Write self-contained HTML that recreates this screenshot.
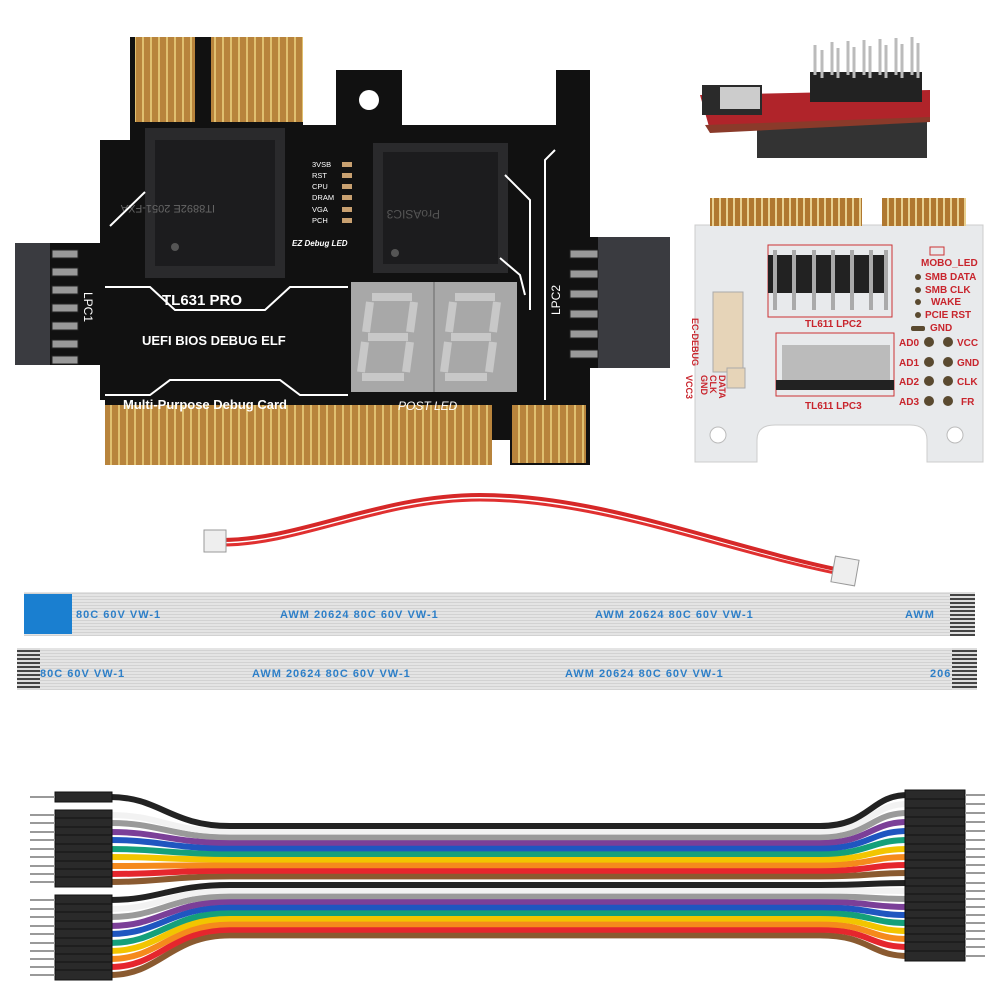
<!DOCTYPE html>
<html><head><meta charset="utf-8"><style>
html,body{margin:0;padding:0;background:#fff;}
svg{display:block}
text{font-family:"Liberation Sans",sans-serif}
</style></head><body>
<svg width="1000" height="1000" viewBox="0 0 1000 1000" xmlns="http://www.w3.org/2000/svg">
<defs>
<pattern id="gold" width="8" height="10" patternUnits="userSpaceOnUse"><rect width="8" height="10" fill="#b8843c"/><rect x="6" width="2" height="10" fill="#e0c070"/></pattern>
<pattern id="gold2" width="7" height="10" patternUnits="userSpaceOnUse"><rect width="7" height="10" fill="#b07830"/><rect x="5" width="2" height="10" fill="#e8d090"/></pattern>
<pattern id="rib" width="10" height="3" patternUnits="userSpaceOnUse"><rect width="10" height="3" fill="#e4e4e4"/><rect y="2" width="10" height="1" fill="#d2d2d2"/></pattern>
<pattern id="stripe" width="3" height="4" patternUnits="userSpaceOnUse"><rect width="3" height="4" fill="#ddd"/><rect y="2" width="3" height="2" fill="#444"/></pattern>
</defs>

<!-- ===== Black PCB card ===== -->
<rect x="15" y="243" width="35" height="122" fill="#3a3b40"/>
<rect x="598" y="237" width="72" height="131" fill="#3a3b40"/>
<path d="M130,37 L303,37 L303,125 L336,125 L336,70 L402,70 L402,125 L556,125 L556,70 L590,70 L590,237 L598,237 L598,368 L590,368 L590,465 L510,465 L510,440 L492,440 L492,465 L105,465 L105,400 L100,400 L100,365 L50,365 L50,243 L100,243 L100,140 L130,140 Z" fill="#111"/>
<rect x="135" y="37" width="60" height="85" fill="url(#gold)"/>
<rect x="211" y="37" width="92" height="85" fill="url(#gold)"/>
<circle cx="369" cy="100" r="10" fill="#fff"/>
<rect x="105" y="405" width="387" height="60" fill="url(#gold)"/>
<rect x="512" y="405" width="74" height="58" fill="url(#gold)"/>
<g fill="#999" stroke="#222">
<rect x="52" y="250" width="26" height="8"/><rect x="52" y="268" width="26" height="8"/><rect x="52" y="286" width="26" height="8"/><rect x="52" y="304" width="26" height="8"/><rect x="52" y="322" width="26" height="8"/><rect x="52" y="340" width="26" height="8"/><rect x="52" y="356" width="26" height="8"/>
<rect x="570" y="250" width="28" height="8"/><rect x="570" y="270" width="28" height="8"/><rect x="570" y="290" width="28" height="8"/><rect x="570" y="310" width="28" height="8"/><rect x="570" y="330" width="28" height="8"/><rect x="570" y="350" width="28" height="8"/>
</g>
<rect x="145" y="128" width="140" height="150" fill="#2a2a2c"/>
<rect x="155" y="140" width="120" height="126" fill="#1c1c1e"/>
<rect x="373" y="143" width="135" height="130" fill="#2a2a2c"/>
<rect x="383" y="152" width="115" height="112" fill="#1c1c1e"/>
<g fill="#555"><circle cx="175" cy="247" r="4"/><circle cx="395" cy="253" r="4"/></g>
<text x="215" y="175" fill="#666" font-size="11" transform="rotate(180 215 190)">IT8892E 2051-FXA</text>
<text x="440" y="220" fill="#555" font-size="12" transform="rotate(180 440 215)">ProASIC3</text>
<g fill="#fff" font-size="7.5">
<text x="312" y="167">3VSB</text><text x="312" y="178">RST</text><text x="312" y="189">CPU</text><text x="312" y="200">DRAM</text><text x="312" y="212">VGA</text><text x="312" y="223">PCH</text>
</g>
<g fill="#c8a070"><rect x="342" y="162" width="10" height="5"/><rect x="342" y="173" width="10" height="5"/><rect x="342" y="184" width="10" height="5"/><rect x="342" y="195" width="10" height="5"/><rect x="342" y="207" width="10" height="5"/><rect x="342" y="218" width="10" height="5"/></g>
<text x="292" y="246" fill="#fff" font-size="8" font-style="italic" font-weight="bold">EZ Debug LED</text>
<rect x="351" y="282" width="166" height="110" fill="#a8a8a8"/>
<line x1="434" y1="282" x2="434" y2="392" stroke="#888" stroke-width="2"/>
<g fill="none" stroke="#c8c8c8" stroke-width="8">
<path d="M372,297 L412,297 M370,302 L366,332 M414,302 L410,332 M368,337 L408,337 M365,342 L361,372 M410,342 L406,372 M362,377 L404,377"/>
<path d="M455,297 L495,297 M453,302 L449,332 M497,302 L493,332 M451,337 L491,337 M448,342 L444,372 M493,342 L489,372 M445,377 L487,377"/>
</g>
<g fill="#fff" font-weight="bold">
<text x="162" y="305" font-size="15">TL631 PRO</text>
<text x="142" y="345" font-size="13">UEFI BIOS DEBUG ELF</text>
<text x="123" y="409" font-size="13">Multi-Purpose Debug Card</text>
<text x="398" y="410" font-size="12" font-style="italic" font-weight="normal">POST LED</text>
<text x="84" y="292" font-size="12" font-weight="normal" transform="rotate(90 84 292)">LPC1</text>
<text x="560" y="315" font-size="12" font-weight="normal" transform="rotate(-90 560 315)">LPC2</text>
</g>
<g fill="none" stroke="#fff" stroke-width="2">
<path d="M105,287 L150,287 L175,310 L265,310 L290,287 L348,287"/>
<path d="M105,395 L150,395 L170,380 L280,380 L300,395 L348,395"/>
<path d="M110,226 L145,192"/>
<path d="M505,175 L530,200 L530,310"/>
<path d="M555,150 L545,160 L545,400"/>
<path d="M500,258 L520,275 L525,295"/>
</g>

<!-- ===== Red adapter ===== -->
<rect x="757" y="118" width="170" height="40" fill="#333"/>
<path d="M700,95 L930,90 L930,120 L710,130 Z" fill="#b0242a"/>
<path d="M705,125 L930,117 L930,122 L710,133 Z" fill="#8a3a2a"/>
<rect x="702" y="85" width="60" height="30" fill="#2a2a2a"/>
<rect x="720" y="87" width="40" height="22" fill="#ccc"/>
<g fill="#222"><rect x="810" y="72" width="112" height="30"/></g>
<g stroke="#bbb" stroke-width="3">
<line x1="815" y1="45" x2="815" y2="75"/><line x1="832" y1="42" x2="832" y2="75"/><line x1="848" y1="41" x2="848" y2="75"/><line x1="864" y1="40" x2="864" y2="75"/><line x1="880" y1="39" x2="880" y2="75"/><line x1="896" y1="38" x2="896" y2="75"/><line x1="912" y1="37" x2="912" y2="75"/>
<line x1="822" y1="50" x2="822" y2="78"/><line x1="838" y1="48" x2="838" y2="78"/><line x1="854" y1="47" x2="854" y2="78"/><line x1="870" y1="46" x2="870" y2="78"/><line x1="886" y1="45" x2="886" y2="78"/><line x1="902" y1="44" x2="902" y2="78"/><line x1="918" y1="43" x2="918" y2="78"/>
</g>

<!-- ===== White card ===== -->
<path d="M695,225 L983,225 L983,462 L927,462 L927,440 Q927,425 910,425 L775,425 Q757,425 757,440 L757,462 L695,462 Z" fill="#e8eaec" stroke="#ccc"/>
<rect x="710" y="198" width="152" height="28" fill="url(#gold2)"/>
<rect x="882" y="198" width="84" height="28" fill="url(#gold2)"/>
<circle cx="718" cy="435" r="8" fill="#fff" stroke="#bbb"/><circle cx="955" cy="435" r="8" fill="#fff" stroke="#bbb"/>
<rect x="768" y="245" width="124" height="72" fill="none" stroke="#c33" stroke-width="1"/>
<g fill="#222"><rect x="768" y="255" width="120" height="38"/></g>
<g stroke="#aaa" stroke-width="4"><line x1="775" y1="250" x2="775" y2="310"/><line x1="794" y1="250" x2="794" y2="310"/><line x1="814" y1="250" x2="814" y2="310"/><line x1="833" y1="250" x2="833" y2="310"/><line x1="852" y1="250" x2="852" y2="310"/><line x1="871" y1="250" x2="871" y2="310"/><line x1="886" y1="250" x2="886" y2="310"/></g>
<rect x="776" y="333" width="118" height="63" fill="none" stroke="#c33"/>
<rect x="782" y="345" width="108" height="35" fill="#bbb"/>
<rect x="776" y="380" width="118" height="10" fill="#222"/>
<rect x="713" y="292" width="30" height="80" fill="#e6d4b8" stroke="#aaa"/>
<rect x="727" y="368" width="18" height="20" fill="#e6d4b8" stroke="#aaa"/>
<g fill="#c8252d" font-weight="bold" font-size="10">
<text x="921" y="266">MOBO_LED</text>
<text x="925" y="280">SMB DATA</text><text x="925" y="293">SMB CLK</text><text x="931" y="305">WAKE</text><text x="925" y="318">PCIE RST</text><text x="930" y="331">GND</text>
<text x="899" y="346">AD0</text><text x="899" y="366">AD1</text><text x="899" y="385">AD2</text><text x="899" y="405">AD3</text>
<text x="957" y="346">VCC</text><text x="957" y="366">GND</text><text x="957" y="385">CLK</text><text x="961" y="405">FR</text>
<text x="805" y="327">TL611 LPC2</text><text x="805" y="409">TL611 LPC3</text>
<text x="692" y="318" font-size="9" transform="rotate(90 692 318)">EC-DEBUG</text>
<text x="701" y="375" font-size="9" transform="rotate(90 701 375)">GND</text>
<text x="710" y="375" font-size="9" transform="rotate(90 710 375)">CLK</text>
<text x="719" y="375" font-size="9" transform="rotate(90 719 375)">DATA</text>
<text x="686" y="375" font-size="9" transform="rotate(90 686 375)">VCC3</text>
</g>
<g fill="#5a4a30"><circle cx="918" cy="277" r="3"/><circle cx="918" cy="290" r="3"/><circle cx="918" cy="302" r="3"/><circle cx="918" cy="315" r="3"/><rect x="911" y="326" width="14" height="5" rx="2"/>
<circle cx="929" cy="342" r="5"/><circle cx="948" cy="342" r="5"/><circle cx="929" cy="362" r="5"/><circle cx="948" cy="362" r="5"/><circle cx="929" cy="381" r="5"/><circle cx="948" cy="381" r="5"/><circle cx="929" cy="401" r="5"/><circle cx="948" cy="401" r="5"/></g>
<rect x="930" y="247" width="14" height="8" fill="none" stroke="#c33"/>

<!-- ===== Red cable ===== -->
<path d="M222,540 C300,540 380,495 480,495 C600,495 720,545 840,570" fill="none" stroke="#d62828" stroke-width="4"/>
<path d="M222,545 C300,545 380,500 480,500 C600,500 720,550 840,574" fill="none" stroke="#e03030" stroke-width="3"/>
<rect x="204" y="530" width="22" height="22" fill="#eee" stroke="#999"/>
<rect x="833" y="558" width="24" height="26" fill="#eee" stroke="#999" transform="rotate(10 845 571)"/>

<!-- ===== Ribbons ===== -->
<rect x="24" y="592" width="951" height="44" fill="url(#rib)"/>
<rect x="24" y="594" width="48" height="40" fill="#1a7fd0"/>
<rect x="950" y="592" width="25" height="44" fill="url(#stripe)"/>
<rect x="17" y="648" width="960" height="42" fill="url(#rib)"/>
<rect x="17" y="648" width="23" height="42" fill="url(#stripe)"/>
<rect x="952" y="648" width="25" height="42" fill="url(#stripe)"/>
<g fill="#2d7fc8" font-size="11" font-weight="bold" letter-spacing="1">
<text x="76" y="618">80C  60V  VW-1</text>
<text x="280" y="618">AWM  20624  80C  60V  VW-1</text>
<text x="595" y="618">AWM  20624  80C  60V  VW-1</text>
<text x="905" y="618">AWM</text>
<text x="40" y="677">80C  60V  VW-1</text>
<text x="252" y="677">AWM  20624  80C  60V  VW-1</text>
<text x="565" y="677">AWM  20624  80C  60V  VW-1</text>
<text x="930" y="677">206</text>
</g>

<!-- ===== Dupont wires ===== -->
<g id="wires" fill="none" stroke-width="6"></g>
<g id="conns"></g>
</svg>
<script>
var cols=["#222","#f2f2f2","#9a9a9a","#7b3f98","#1f56c0","#14a07a","#f2c500","#f58a1c","#e5262d","#8a5a30"];
var g=document.getElementById("wires"),c=document.getElementById("conns"),ns="http://www.w3.org/2000/svg";
function bundle(cy,ly,ry){
 for(var i=9;i>=0;i--){
  var y=cy+i*5.6, l=ly[i], r=ry[i];
  var p=document.createElementNS(ns,"path");
  p.setAttribute("d","M110,"+l+" C160,"+l+" 170,"+y+" 230,"+y+" L820,"+y+" C870,"+y+" 870,"+r+" 908,"+r);
  p.setAttribute("stroke",cols[i]);g.appendChild(p);
 }
 for(var i=0;i<10;i++){
  addC(55,ly[i]-5,57,10);addC(905,ry[i]-5,60,10);
  pin(30,ly[i],55);pin(965,ry[i],985);
 }
}
function addC(x,y,w,h){var r=document.createElementNS(ns,"rect");r.setAttribute("x",x);r.setAttribute("y",y);r.setAttribute("width",w);r.setAttribute("height",h);r.setAttribute("fill","#2a2a2a");r.setAttribute("stroke","#111");c.appendChild(r);}
function pin(x1,y,x2){var l=document.createElementNS(ns,"line");l.setAttribute("x1",x1);l.setAttribute("x2",x2);l.setAttribute("y1",y);l.setAttribute("y2",y);l.setAttribute("stroke","#999");l.setAttribute("stroke-width","2");c.appendChild(l);}
bundle(826,[797,815,823,832,840,849,857,866,874,882],[795,804,813,822,831,840,849,857,865,873]);
bundle(885,[900,909,917,926,934,943,951,959,967,975],[883,891,899,907,915,923,931,939,947,956]);
</script>
</body></html>
